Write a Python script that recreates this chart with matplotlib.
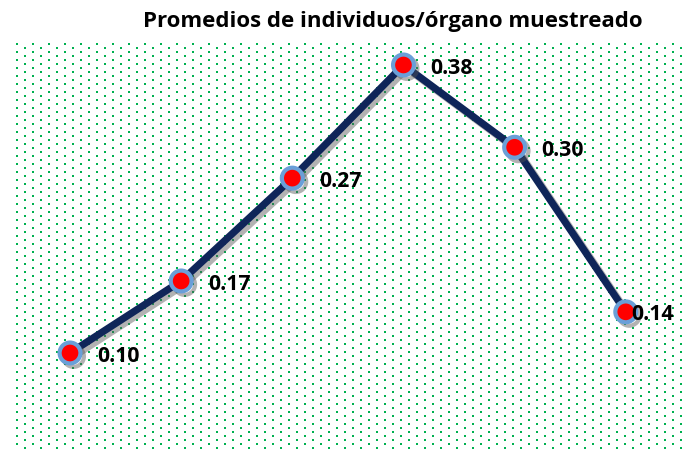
import numpy as np
import matplotlib
matplotlib.use("Agg")
import matplotlib.pyplot as plt
import matplotlib.patheffects as pe

# ── Data ──────────────────────────────────────────────────────────────────────
positions = [0, 1, 2, 3, 4, 5]
valores = [0.10, 0.17, 0.27, 0.38, 0.30, 0.14]
etiquetas = ["0.10", "0.17", "0.27", "0.38", "0.30", "0.14"]
titulo = "Promedios de individuos/órgano muestreado"

W, H = 688, 452
fig = plt.figure(figsize=(W / 100, H / 100), dpi=100)

# ── Dotted background (green staggered dots) ─────────────────────────────────
bg = fig.add_axes([0, 0, 1, 1])
bg.set_xlim(0, W)
bg.set_ylim(H, 0)
bg.axis("off")
xs, ys = [], []
for i, x in enumerate(np.arange(16.7, 684, 8.0)):
    start = 44.7 if i % 2 == 0 else 48.7
    for y in np.arange(start, 451, 8.0):
        xs.append(x)
        ys.append(y)
bg.scatter(xs, ys, s=4, marker="s", color="#00b050", linewidths=0)

# ── Line chart ───────────────────────────────────────────────────────────────
left, top, bottom = 15, 45, 452
ax = fig.add_axes([left / W, (H - bottom) / H, 1 - left / W, (bottom - top) / H])
ax.patch.set_alpha(0)
ax.set_xlim(-0.495, 5.56)
ax.set_ylim(0.0047, 0.4004)
ax.axis("off")

shadow = [pe.SimpleLineShadow(offset=(2.5, -2.5), shadow_color="#555555", alpha=0.45),
          pe.Normal()]
ax.plot(positions, valores, color="#0f2559", lw=5.2, solid_capstyle="round",
        path_effects=shadow, zorder=2)
ax.plot(positions, valores, linestyle="none", marker="o", markersize=15,
        markerfacecolor="#ff0000", markeredgecolor="#6a9fd8", markeredgewidth=3,
        path_effects=shadow, zorder=3)

for i, (x, v, lab) in enumerate(zip(positions, valores, etiquetas)):
    dx = 27 if i < len(positions) - 1 else 5
    ax.annotate(lab, (x, v), xytext=(dx * 0.72, -1.5), textcoords="offset points",
                ha="left", va="center", fontsize=15.2, fontweight="bold",
                family="Open Sans", color="black", zorder=4)

fig.text(393 / W, 1 - 22 / H, titulo, ha="center", va="center",
         fontsize=16, fontweight="bold", family="Open Sans", color="black")

fig.savefig("out.png", dpi=100)
